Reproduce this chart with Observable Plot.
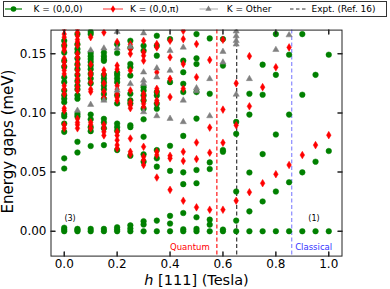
<!DOCTYPE html>
<html><head><meta charset="utf-8">
<script src="https://cdn.jsdelivr.net/npm/d3@7"></script>
<script src="https://cdn.jsdelivr.net/npm/@observablehq/plot@0.6"></script>
<style>body{margin:0;background:#fff;} #chart{width:390px;height:289px;}</style>
</head><body><div id="chart"></div>
<script>
// Field values h [111] (Tesla)
const fields = [0,0.05,0.1,0.15,0.2,0.25,0.3,0.35,0.4,0.45,0.5,0.55,0.6,0.65,0.7,0.75,0.8,0.85,0.9,0.95,1.0];

// Energy gaps (meV), K = (0,0,0)
const gapsK000 = [
  [0.161,0.157,0.151,0.144,0.139,0.130,0.126,0.119,0.115,0.112,0.109,0.099,0.097,0.091,0.084,0.0616,0.053,0.003,0.0014,0],
  [0.1666,0.158,0.154,0.151,0.146,0.141,0.137,0.132,0.127,0.123,0.120,0.115,0.112,0.099,0.097,0.0756,0.0666,0.002,0.001,0],
  [0.1686,0.1666,0.1506,0.148,0.1456,0.143,0.140,0.137,0.133,0.129,0.125,0.0986,0.0946,0.088,0.0846,0.072,0.002,0],
  [0.151,0.148,0.1456,0.144,0.132,0.129,0.126,0.123,0.120,0.116,0.112,0.095,0.092,0.087,0.0728,0.002,0],
  [0.158,0.1506,0.134,0.132,0.129,0.126,0.115,0.108,0.091,0.088,0.085,0.0686,0.0034,0.0014,0],
  [0.161,0.155,0.1414,0.1386,0.1316,0.1162,0.1106,0.108,0.0896,0.088,0.0638,0.005,0.0023,0],
  [0.1568,0.1526,0.1218,0.119,0.1148,0.1106,0.1036,0.0946,0.0798,0.065,0.0588,0.0085,0.0057,0],
  [0.1652,0.1568,0.1484,0.1176,0.1148,0.1078,0.1036,0.0686,0.0616,0.0546,0.009,0],
  [0.1624,0.126,0.0722,0.051,0.013,0.0065,0],
  [0.1442,0.1344,0.1246,0.1176,0.0806,0.0498,0.0398,0.0154,0.0017,0],
  [0.1666,0.1462,0.1414,0.1176,0.0952,0.0518,0.0406,0.0118,0.002,0],
  [0.163,0.1162,0.0582,0.0526,0.0098,0.0056,0],
  [0.1624,0.140,0.0686,0.0672,0.0014,0],
  [0.0924,0.0823,0.0336,0.009,0],
  [0.1162,0.0986,0.0496,0.0168,0],
  [0.1408,0.1154,0.0652,0.0252,0],
  [0.1666,0.1322,0.0818,0.0336,0],
  [0.1492,0.0986,0.0414,0],
  [0.1666,0.1154,0.0498,0],
  [0.1322,0.0588,0],
  [0.1492,0.0678,0]
];

// Energy gaps (meV), K = (0,0,pi)
const gapsK00pi = [
  [0.171,0.1666,0.164,0.158,0.155,0.153,0.146,0.143,0.140,0.136,0.133,0.123,0.120,0.116,0.104,0.102,0.090,0.087],
  [0.171,0.168,0.165,0.162,0.160,0.157,0.150,0.147,0.143,0.140,0.136,0.133,0.129,0.126,0.122,0.119,0.095,0.092,0.090,0.087],
  [0.164,0.141,0.134,0.132,0.126,0.120,0.118,0.092,0.090,0.087],
  [0.168,0.136,0.133,0.125,0.118,0.113,0.090,0.087,0.084,0.081],
  [0.160,0.140,0.137,0.123,0.120,0.116,0.113,0.1106,0.084,0.081,0.077,0.0728,0.070],
  [0.158,0.154,0.150,0.1358,0.119,0.109,0.1064,0.104,0.0784,0.0672,0.065],
  [0.161,0.1512,0.1484,0.1442,0.1162,0.1134,0.1106,0.1078,0.105,0.0714,0.063,0.0602,0.056],
  [0.1582,0.1554,0.1344,0.1204,0.118,0.1106,0.1086,0.0672,0.0644,0.0454],
  [0.161,0.147,0.1288,0.1134,0.0638,0.0616,0.035],
  [0.1694,0.1624,0.1414,0.1204,0.0672,0.0594,0.0258],
  [0.1582,0.1302,0.075,0.061,0.0202],
  [0.1448,0.0876,0.0664,0.0182],
  [0.1618,0.1028,0.0748,0.0182],
  [0.125,0.0896,0.0258],
  [0.148,0.1056,0.033],
  [0.1218,0.0406],
  [0.1386,0.0482],
  [0.1554,0.056],
  [0.0644],
  [0.0728],
  [0.0812]
];

// Energy gaps (meV), K = Other
const gapsOther = [
  [],
  [0.102],
  [0.153,0.107],
  [0.1546,0.1106],
  [0.1686,0.1546,0.119],
  [0.156,0.1246],
  [0.1674,0.1344,0.1274,0.1246,0.1008],
  [0.1378,0.1302,0.0974],
  [0.1526,0.1358,0.0952],
  [0.1554,0.1106,0.0924],
  [0.121,0.1185],
  [0.1288,0.0974],
  [0.1518,0.1428],
  [0.169,0.165,0.161,0.158,0.1156],
  [0.1288],
  [],
  [0.1534],
  [0.1658],
  [],
  [],
  []
];

// Experimental transition fields (Ref. 16) and regime labels
const exptQuantum = 0.577;
const exptRef16 = 0.652;
const exptClassical = 0.86;
const degeneracyLabels = ["(3)", "(1)"];
const degeneracyX = [0.022, 0.944];
const degeneracyY = [0.0108, 0.0108];
const regimeLabels = ["Quantum", "Classical"];
const regimeY = -0.0137;

const xTicks = [0,0.2,0.4,0.6,0.8,1.0];
const yTicks = [0,0.05,0.10,0.15];
const seriesNames = ["K = (0,0,0)", "K = (0,0,\u03c0)", "K = Other", "Expt. (Ref. 16)"];

function flatten(gaps) {
  const out = [];
  fields.forEach((h, i) => gaps[i].forEach(e => out.push({h, e})));
  return out;
}
const ptsK000 = flatten(gapsK000);
const ptsK00pi = flatten(gapsK00pi);
const ptsOther = flatten(gapsOther);

const thinDiamond = {
  draw(ctx) { ctx.moveTo(0,-3.8); ctx.lineTo(2.3,0); ctx.lineTo(0,3.8); ctx.lineTo(-2.3,0); ctx.closePath(); }
};
const tickShape = { draw(ctx, l) { ctx.moveTo(0,0); ctx.lineTo(0,-l); } };

const GREEN = "#008000", RED = "#ff0000", GRAY = "#808080";

const svg = Plot.plot({
  width: 390, height: 289,
  marginLeft: 50.5, marginRight: 48.5, marginTop: 29.6, marginBottom: 33.4,
  style: {fontFamily: "DejaVu Sans", fontSize: "12px", background: "white", color: "black"},
  x: {domain: [-0.05, 1.05]},
  y: {domain: [-0.021, 0.17]},
  marks: [
    Plot.ruleX([exptQuantum], {x: d => d, stroke: RED, strokeWidth: 1.1, strokeDasharray: "4,2.5"}),
    Plot.ruleX([exptRef16], {x: d => d, stroke: "#222", strokeWidth: 1.1, strokeDasharray: "4,2.5"}),
    Plot.ruleX([exptClassical], {x: d => d, stroke: "#5555ff", strokeOpacity: 0.75, strokeWidth: 1.1, strokeDasharray: "4,2.5"}),
    Plot.dot(ptsK000, {x: "h", y: "e", r: 2.8, fill: GREEN, stroke: GREEN, strokeWidth: 0.5, clip: true}),
    Plot.dot(ptsK00pi, {x: "h", y: "e", symbol: thinDiamond, fill: RED, stroke: RED, strokeWidth: 0.5, clip: true}),
    Plot.dot(ptsOther, {x: "h", y: "e", symbol: "triangle", r: 2.3, fill: GRAY, stroke: GRAY, strokeWidth: 0.5, clip: true}),
    Plot.text(degeneracyLabels, {x: (d,i) => degeneracyX[i], y: (d,i) => degeneracyY[i], text: d => d, fontSize: 8, fill: "black"}),
    Plot.text([regimeLabels[0]], {x: [exptQuantum - 0.027], y: [regimeY], text: d => d, textAnchor: "end", fontSize: 8.5, fill: RED}),
    Plot.text([regimeLabels[1]], {x: [exptClassical + 0.013], y: [regimeY], text: d => d, textAnchor: "start", fontSize: 8.5, fill: "#3333ff"}),
    Plot.frame({stroke: "#222", strokeWidth: 1}),
    Plot.vector(xTicks, {x: d => d, frameAnchor: "bottom", length: 4, rotate: 0, anchor: "start", shape: tickShape, stroke: "#222"}),
    Plot.vector(xTicks, {x: d => d, frameAnchor: "top", length: 4, rotate: 180, anchor: "start", shape: tickShape, stroke: "#222"}),
    Plot.vector(yTicks, {y: d => d, frameAnchor: "left", length: 4, rotate: 90, anchor: "start", shape: tickShape, stroke: "#222"}),
    Plot.vector(yTicks, {y: d => d, frameAnchor: "right", length: 4, rotate: -90, anchor: "start", shape: tickShape, stroke: "#222"}),
    Plot.axisX(xTicks, {tickSize: 0, tickPadding: 3.5, tickFormat: d => d.toFixed(1), fontSize: 12, label: null}),
    Plot.axisY(yTicks, {tickSize: 0, tickPadding: 4.5, tickFormat: d => d.toFixed(2), fontSize: 12, label: null})
  ]
});

const s = d3.select(svg);
// y axis label
s.append("text").attr("transform", "translate(12.7,141.5) rotate(-90)").attr("text-anchor", "middle")
  .attr("font-size", 15).attr("font-family", "DejaVu Sans").attr("fill", "black").text("Energy gaps (meV)");
// x axis label with italic h
const xl = s.append("text").attr("x", 196.5).attr("y", 285).attr("text-anchor", "middle")
  .attr("font-size", 14.5).attr("font-family", "DejaVu Sans").attr("fill", "black").style("white-space", "pre");
xl.append("tspan").attr("font-style", "italic").text("h");
xl.append("tspan").text(" [111] (Tesla)");

// legend
const lg = s.append("g").attr("font-family", "DejaVu Sans").attr("font-size", 9).attr("text-anchor", "start");
lg.append("rect").attr("x", 3.5).attr("y", 1.5).attr("width", 383).attr("height", 15)
  .attr("fill", "white").attr("stroke", "#333").attr("stroke-width", 1);
const ly = 9;
lg.append("line").attr("x1", 5).attr("x2", 22).attr("y1", ly).attr("y2", ly).attr("stroke", GREEN).attr("stroke-width", 1.2);
lg.append("circle").attr("cx", 13.5).attr("cy", ly).attr("r", 2.8).attr("fill", GREEN);
lg.append("line").attr("x1", 103).attr("x2", 123).attr("y1", ly).attr("y2", ly).attr("stroke", "#ff5050").attr("stroke-width", 1.2);
lg.append("path").attr("d", `M113,${ly-3.8}L115.3,${ly}L113,${ly+3.8}L110.7,${ly}Z`).attr("fill", RED);
lg.append("line").attr("x1", 199.5).attr("x2", 218).attr("y1", ly).attr("y2", ly).attr("stroke", "#b8b8b8").attr("stroke-width", 1.2);
lg.append("path").attr("d", d3.symbol(d3.symbolTriangle, Math.PI*2.3*2.3)()).attr("transform", `translate(208.5,${ly})`).attr("fill", GRAY);
lg.append("line").attr("x1", 290).attr("x2", 306).attr("y1", ly).attr("y2", ly).attr("stroke", "#333").attr("stroke-width", 1).attr("stroke-dasharray", "3.5,2.5");
const textX = [33.5, 130, 226.7, 311.5];
seriesNames.forEach((t, i) => lg.append("text").attr("x", textX[i]).attr("y", ly).attr("dy", "0.35em")
  .attr("text-anchor", "start").attr("fill", "black").text(t));

document.getElementById("chart").appendChild(svg);
</script>
</body></html>
